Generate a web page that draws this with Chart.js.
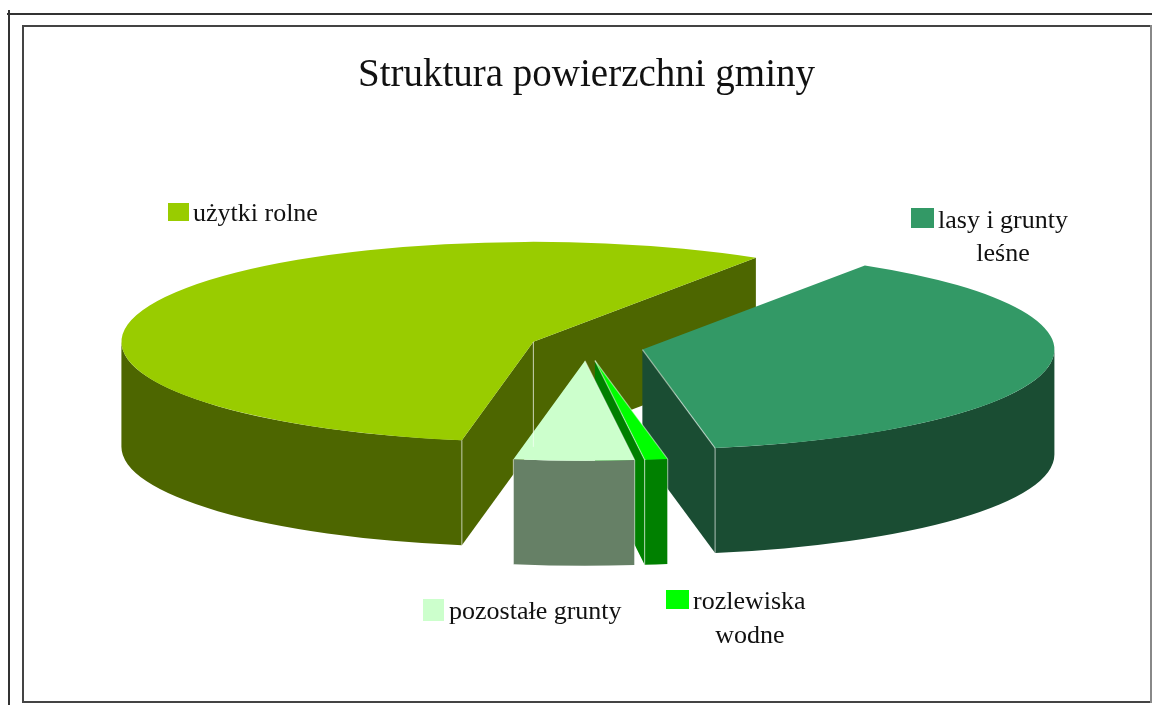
<!DOCTYPE html>
<html>
<head>
<meta charset="utf-8">
<title>Struktura powierzchni gminy</title>
<script src="https://cdn.jsdelivr.net/npm/chart.js@4"></script>
<style>
  html, body { margin: 0; padding: 0; background: #fff; overflow: hidden; }
  #wrap { position: relative; width: 1152px; height: 705px; }
  #chart { position: absolute; left: 0; top: 0; }
  .line { position: absolute; background: #333; }
</style>
</head>
<body>
<div id="wrap">
  <div class="line" style="left:7px;top:13px;width:1145px;height:2px"></div>
  <div class="line" style="left:8px;top:10px;width:2px;height:695px"></div>
  <div class="line" style="left:22px;top:25px;width:1130px;height:2px;background:#444"></div>
  <div class="line" style="left:22px;top:25px;width:2px;height:678px;background:#444"></div>
  <div class="line" style="left:22px;top:701px;width:1130px;height:2px;background:#444"></div>
  <div class="line" style="left:1150px;top:25px;width:2px;height:678px;background:#888"></div>
  <canvas id="chart" width="1152" height="705"></canvas>
</div>
<script>
const title = 'Struktura powierzchni gminy';
const categories = [['użytki rolne'], ['lasy i grunty', 'leśne'], ['rozlewiska', 'wodne'], ['pozostałe grunty']];
const values = [56.3, 38.1, 0.9, 4.7];

const topColors = ['#99CC00', '#339966', '#00FF00', '#CCFFCC'];
const wallColors = ['#4D6600', '#1A4D33', '#008000', '#668066'];

// where each label goes: swatch box, then text start x / centre y per line
const labelBoxes = [
  { x: 168, y: 203, w: 21, h: 18, tx: 193, ty: 214 },
  { x: 911, y: 208, w: 23, h: 20, tx: 938, ty: 221, cx: 1003, ty2: 254 },
  { x: 666, y: 590, w: 23, h: 19, tx: 693, ty: 602, cx: 750, ty2: 636 },
  { x: 423, y: 599, w: 21, h: 22, tx: 449, ty: 612 }
];

const squash = 100 / 412;   // tilt of the pie
const depth = 105;          // height of the 3d walls
const explode = 57;         // how far each slice is pulled out

function sliceGeom(chart, arc) {
  const { x, y, startAngle, endAngle, outerRadius: r } = arc;
  const ox = x;
  const oy = midY(chart) + (y - midY(chart)) * squash;
  const at = a => [ox + r * Math.cos(a), oy + r * squash * Math.sin(a)];
  return { ox, oy, startAngle, endAngle, r, at };
}

function midY(chart) {
  return (chart.chartArea.top + chart.chartArea.bottom) / 2;
}

function radialWall(ctx, g, a) {
  const [ex, ey] = g.at(a);
  ctx.beginPath();
  ctx.moveTo(g.ox, g.oy);
  ctx.lineTo(ex, ey);
  ctx.lineTo(ex, ey + depth);
  ctx.lineTo(g.ox, g.oy + depth);
  ctx.closePath();
  ctx.fill();
}

function outerWall(ctx, g) {
  // only the part facing the viewer: canvas angles 0..180, also after one full turn
  [0, Math.PI * 2].forEach(shift => {
    const a0 = Math.max(g.startAngle, shift);
    const a1 = Math.min(g.endAngle, shift + Math.PI);
    if (a1 <= a0) return;
    ctx.beginPath();
    ctx.ellipse(g.ox, g.oy, g.r, g.r * squash, 0, a0, a1);
    ctx.ellipse(g.ox, g.oy + depth, g.r, g.r * squash, 0, a1, a0, true);
    ctx.closePath();
    ctx.fill();
  });
}

function edgeLine(ctx, x0, y0, x1, y1) {
  ctx.beginPath();
  ctx.moveTo(x0, y0);
  ctx.lineTo(x1, y1);
  ctx.stroke();
}

const pie3d = {
  id: 'pie3d',
  afterDatasetsUpdate(chart) {
    // the arc option `offset` also changes the radius, so move the slices here
    chart.getDatasetMeta(0).data.forEach(arc => {
      const mid = (arc.startAngle + arc.endAngle) / 2;
      arc.x += Math.cos(mid) * explode;
      arc.y += Math.sin(mid) * explode;
    });
  },
  beforeDatasetsDraw(chart) {
    const ctx = chart.ctx;
    chart.getDatasetMeta(0).data.forEach((arc, i) => {
      const g = sliceGeom(chart, arc);
      ctx.fillStyle = wallColors[i];
      if (Math.cos(g.endAngle) > 0) radialWall(ctx, g, g.endAngle);
      if (Math.cos(g.startAngle) < 0) radialWall(ctx, g, g.startAngle);
      outerWall(ctx, g);
    });
    // squash the flat pie so the tops land on the walls
    ctx.save();
    ctx.translate(0, midY(chart));
    ctx.scale(1, squash);
    ctx.translate(0, -midY(chart));
  },
  afterDatasetsDraw(chart) {
    const ctx = chart.ctx;
    ctx.restore();
    ctx.save();
    ctx.strokeStyle = 'rgba(255,255,255,0.5)';
    ctx.lineWidth = 1.2;
    chart.getDatasetMeta(0).data.forEach(arc => {
      const g = sliceGeom(chart, arc);
      [g.startAngle, g.endAngle].forEach(a => {
        const [ex, ey] = g.at(a);
        if (Math.sin(a) > 0) {
          edgeLine(ctx, ex, ey, ex, ey + depth);
          if (Math.cos(a) > 0) edgeLine(ctx, g.ox, g.oy, ex, ey);
        }
      });
      if (g.endAngle - g.startAngle > Math.PI) edgeLine(ctx, g.ox, g.oy, g.ox, g.oy + depth);
    });
    ctx.restore();
  },
  afterDraw(chart) {
    const ctx = chart.ctx;
    ctx.save();
    ctx.font = '26px "Liberation Serif"';
    ctx.fillStyle = '#111';
    ctx.textBaseline = 'middle';
    categories.forEach((lines, i) => {
      const b = labelBoxes[i];
      ctx.save();
      ctx.fillStyle = topColors[i];
      ctx.fillRect(b.x, b.y, b.w, b.h);
      ctx.restore();
      ctx.textAlign = 'left';
      ctx.fillText(lines[0], b.tx, b.ty);
      if (lines[1]) {
        ctx.textAlign = 'center';
        ctx.fillText(lines[1], b.cx, b.ty2);
      }
    });
    ctx.restore();
  }
};

new Chart(document.getElementById('chart').getContext('2d'), {
  type: 'pie',
  data: {
    labels: categories,
    datasets: [{
      data: values,
      backgroundColor: topColors,
      borderWidth: 0,
      radius: 412,
      rotation: 190,
      clip: false
    }]
  },
  options: {
    responsive: false,
    animation: false,
    layout: { padding: { left: 21, right: 0, top: 0, bottom: 110 } },
    plugins: {
      legend: { display: false },
      tooltip: { enabled: false },
      title: {
        display: true,
        text: title,
        color: '#111',
        font: { family: '"Liberation Serif"', size: 39, weight: 'normal', lineHeight: 1.2 },
        padding: { top: 52, bottom: 0 }
      }
    }
  },
  plugins: [pie3d]
});
</script>
</body>
</html>
